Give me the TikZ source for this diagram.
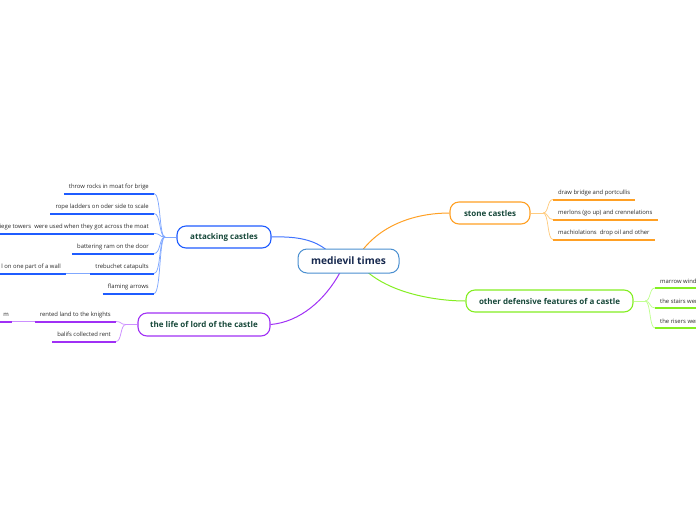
\documentclass[tikz,border=0pt]{standalone}
\usepackage{fontspec}
\setmainfont{Open Sans}
\definecolor{cblue}{HTML}{1F5CFF}
\definecolor{lblue}{HTML}{80A8FF}
\definecolor{cpurp}{HTML}{A030F5}
\definecolor{lpurp}{HTML}{CC90FF}
\definecolor{corng}{HTML}{FFA024}
\definecolor{lorng}{HTML}{FFCC80}
\definecolor{cgren}{HTML}{84EE22}
\definecolor{lgren}{HTML}{C0FF90}
\definecolor{cmain}{HTML}{4A8FD0}
\definecolor{tmain}{HTML}{16284E}
\definecolor{tsub}{HTML}{17483A}
\definecolor{tleaf}{HTML}{2A2A2A}
\begin{document}
\begin{tikzpicture}[x=1pt,y=-1pt,
  central/.style={draw=cmain,line width=1pt,fill=white,rounded corners=9pt,minimum width=101pt,minimum height=24pt,inner sep=0pt,text=tmain,font=\fontsize{10.2}{11}\selectfont\bfseries},
  topic/.style={draw=#1,line width=1.1pt,fill=white,rounded corners=9pt,minimum height=22pt,inner sep=0pt,text=tsub,font=\fontsize{8}{9}\selectfont\bfseries},
  leaf/.style={inner xsep=5pt,inner ysep=3pt,text depth=1.5pt,text=tleaf,font=\fontsize{5.9}{7}\selectfont},
  conn/.style={draw=#1,line width=1pt},
  lconn/.style={draw=#1,line width=0.75pt}]
\useasboundingbox (0,0) rectangle (696,520);
\clip (0,0) rectangle (696,520);

% main topics
\node[topic=cblue,minimum width=94pt] (att) at (224,237) {attacking castles};
\node[topic=cpurp,minimum width=132pt,minimum height=23pt] (life) at (204,324.5) {the life of lord of the castle};
\node[topic=corng,minimum width=80pt] (stone) at (490,213) {stone castles};
\node[topic=cgren,minimum width=167pt] (oth) at (549.5,301) {other defensive features of a castle};

\coordinate (cb) at (326,249.5);
\coordinate (co) at (363,249.5);
\coordinate (cp) at (340,272.5);
\coordinate (cg) at (368,272.5);
\draw[conn=cblue!85] (att.east) .. controls (300,236) and (315,241) .. (cb);
\draw[conn=corng] (co) .. controls (385,222) and (420,213) .. (stone.west);
\draw[conn=cpurp] (cp) .. controls (325,300) and (300,322) .. (life.east);
\draw[conn=cgren] (cg) .. controls (395,295) and (440,301) .. (oth.west);
\node[central] (c) at (348.5,261) {medievil times};

% attacking castles leaves
\coordinate (ja) at (165,237);
\draw[lconn=lblue] (att.west) -- (ja);
\foreach \n/\y/\t in {a1/193.5/{throw rocks in moat for brige},
                      a2/213.5/{rope ladders on oder side to scale},
                      a3/233.5/{siege towers\ \ were used when they got across the moat},
                      a4/253.5/{battering ram on the door},
                      a5/273.5/{trebuchet catapults},
                      a6/293.5/{flaming arrows}}{
  \node[leaf,anchor=south east] (\n) at (154,\y) {\t};
  \draw[lconn=lblue] (ja) .. controls (159,237) and (161,\y) .. (\n.south east);
}
\node[leaf,anchor=south east] (a5s) at (66,273.5) {l on one part of a wall};
\draw[lconn=lblue] (a5s.south east) -- (a5.south west);

% life leaves
\coordinate (jl) at (126,324.5);
\draw[lconn=lpurp] (life.west) -- (jl);
\foreach \n/\y/\t in {l1/321.5/{rented land to the knights},
                      l2/341.5/{balifs collected rent}}{
  \node[leaf,anchor=south east] (\n) at (116,\y) {\t};
  \draw[lconn=lpurp] (jl) .. controls (120,324.5) and (122,\y) .. (\n.south east);
}
\node[leaf,anchor=south east,inner xsep=3pt] (l1s) at (12,321.5) {m};
\draw[lconn=lpurp] (l1s.south east) -- (l1.south west);

% stone castles leaves
\coordinate (js) at (543,213);
\draw[lconn=lorng] (stone.east) -- (js);
\foreach \n/\y/\t in {s1/199.5/{draw bridge and portcullis},
                      s2/219.5/{merlons (go up) and crennelations},
                      s3/239.5/{machiolations\ \ drop oil and other}}{
  \node[leaf,anchor=south west] (\n) at (553,\y) {\t};
  \draw[lconn=lorng] (js) .. controls (549,213) and (547,\y) .. (\n.south west);
}

% other defensive leaves
\coordinate (jo) at (645,301);
\draw[lconn=lgren] (oth.east) -- (jo);
\foreach \n/\y/\t in {o1/288/{marrow windows},
                      o2/308/{the stairs were},
                      o3/328/{the risers were}}{
  \node[leaf,anchor=south west] (\n) at (655,\y) {\t};
  \draw[lconn=lgren] (jo) .. controls (651,301) and (649,\y) .. (\n.south west);
}

% underlines
\foreach \n in {a1,a2,a3,a4,a5,a6,a5s}{
  \draw[draw=cblue,line width=2pt] (\n.south west) -- (\n.south east);
}
\foreach \n in {l1,l2,l1s}{
  \draw[draw=cpurp,line width=2pt] (\n.south west) -- (\n.south east);
}
\foreach \n in {s1,s2,s3}{
  \draw[draw=corng,line width=2pt] (\n.south west) -- (\n.south east);
}
\foreach \n in {o1,o2,o3}{
  \draw[draw=cgren,line width=2pt] (\n.south west) -- (\n.south east);
}
\end{tikzpicture}
\end{document}
